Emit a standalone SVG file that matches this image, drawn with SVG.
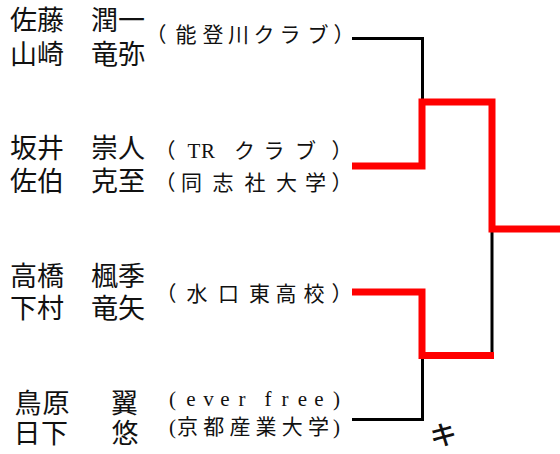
<svg xmlns="http://www.w3.org/2000/svg" width="560" height="454" viewBox="0 0 560 454">
<style>
.nm{font-family:"Noto Sans CJK JP","Noto Sans CJK SC",sans-serif;font-size:27px;fill:#111}
.cl{font-family:"Liberation Serif","Noto Sans CJK JP",serif;font-size:21px;fill:#111}
.bk{fill:none;stroke:#000;stroke-width:3;stroke-linejoin:miter}
.rd{fill:none;stroke:#f00;stroke-width:7;stroke-linejoin:miter}
</style>
<rect width="560" height="454" fill="#fff"/>
<g id="team1">
<text class="nm"><tspan x="10" y="30">佐藤　潤一</tspan><tspan x="10" y="64">山崎　竜弥</tspan></text>
<text class="cl" y="41.5" text-anchor="middle" x="156 186 213 238.5 264 290 318 344">（能登川クラブ）</text>
</g>
<g id="team2">
<text class="nm"><tspan x="10" y="158">坂井　崇人</tspan><tspan x="10" y="191">佐伯　克至</tspan></text>
<text class="cl"><tspan y="158" text-anchor="middle" x="165 194 208 244.5 274 305.5 342">（TRクラブ）</tspan><tspan y="190" text-anchor="middle" x="165 191.5 223 255 286.5 315.5 342">（同志社大学）</tspan></text>
</g>
<g id="team3">
<text class="nm"><tspan x="10" y="286">高橋　楓季</tspan><tspan x="10" y="318">下村　竜矢</tspan></text>
<text class="cl" y="301" text-anchor="middle" x="166 197 228.5 259.5 286 314 342">（水口東高校）</text>
</g>
<g id="team4">
<text class="nm" text-anchor="middle"><tspan y="413" x="28 56 124.5">鳥原翼</tspan><tspan y="443" x="27 54.5 125">日下悠</tspan></text>
<text class="cl" text-anchor="middle"><tspan y="406" x="172.5 191 208.5 225 242 268 285 302.5 319 336.5">(everfree)</tspan><tspan y="434" x="172.5 187.5 213.7 239.9 266.1 292.3 318.5 336.5">(京都産業大学)</tspan></text>
</g>
<g id="connectors">
<path class="bk" d="M352 38.5 H422.5 V102"/>
<path class="bk" d="M352 419.5 H422.5 V355.5"/>
<path class="bk" d="M492 229 V355.5"/>
<path class="rd" d="M352 166 H422 V102 H492 V229 H560"/>
<path class="rd" d="M352 292 H422 V355.5 H494"/>
</g>
<g id="label">
<text class="nm" x="443.5" y="445" text-anchor="middle" font-size="26" font-weight="500" transform="rotate(-6 443.5 435)">キ</text>
</g>
</svg>
